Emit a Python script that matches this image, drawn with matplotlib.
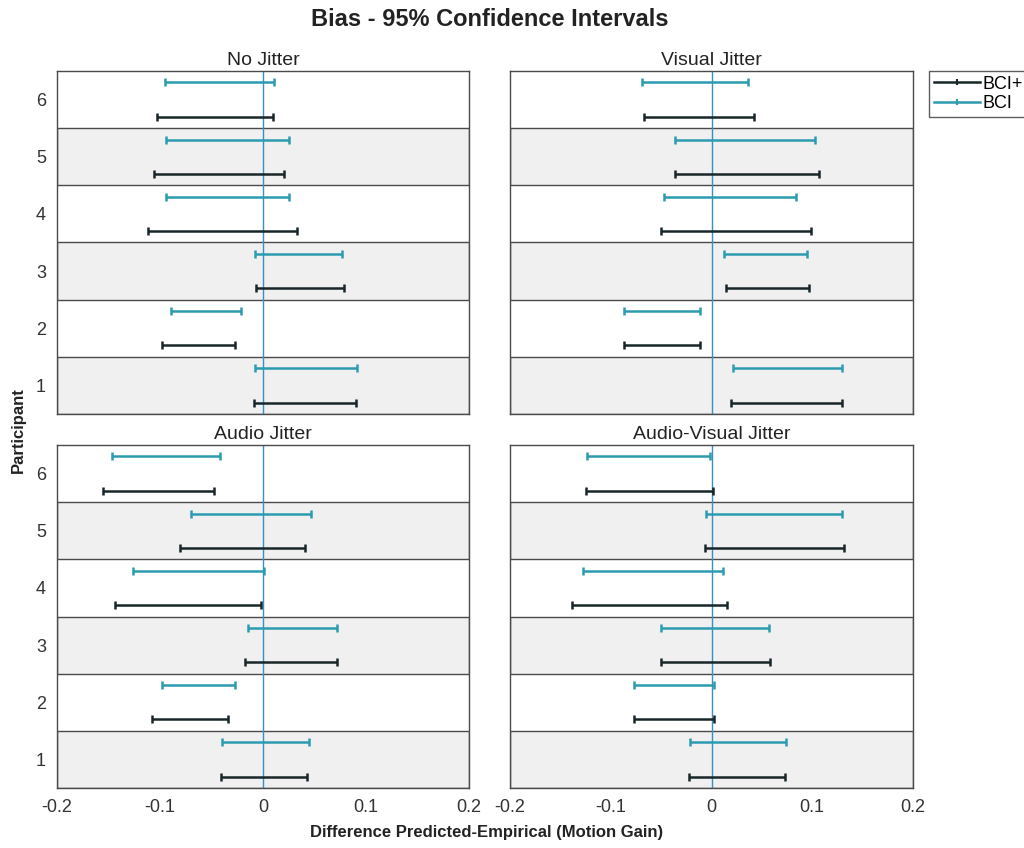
import numpy as np
import matplotlib
matplotlib.use("Agg")
from matplotlib import pyplot as plt
from matplotlib.lines import Line2D

plt.rcParams['font.family'] = ['Liberation Sans', 'DejaVu Sans']

# Participantes y condiciones
participantes = [1, 2, 3, 4, 5, 6]
condiciones = ["No Jitter", "Visual Jitter", "Audio Jitter", "Audio-Visual Jitter"]

# Intervalos de confianza 95% (límite inferior, superior) por participante 1..6
bci_plus_lo = {
    "No Jitter":           [-0.009, -0.098, -0.007, -0.112, -0.106, -0.103],
    "Visual Jitter":       [0.019, -0.087, 0.014, -0.050, -0.036, -0.067],
    "Audio Jitter":        [-0.041, -0.108, -0.017, -0.144, -0.081, -0.155],
    "Audio-Visual Jitter": [-0.022, -0.077, -0.050, -0.138, -0.006, -0.125],
}
bci_plus_hi = {
    "No Jitter":           [0.090, -0.027, 0.079, 0.033, 0.020, 0.010],
    "Visual Jitter":       [0.130, -0.011, 0.097, 0.099, 0.107, 0.042],
    "Audio Jitter":        [0.043, -0.034, 0.072, -0.002, 0.041, -0.048],
    "Audio-Visual Jitter": [0.073, 0.002, 0.058, 0.015, 0.132, 0.001],
}
bci_lo = {
    "No Jitter":           [-0.008, -0.089, -0.008, -0.094, -0.094, -0.095],
    "Visual Jitter":       [0.021, -0.087, 0.012, -0.047, -0.036, -0.069],
    "Audio Jitter":        [-0.040, -0.098, -0.015, -0.126, -0.070, -0.147],
    "Audio-Visual Jitter": [-0.021, -0.077, -0.050, -0.128, -0.005, -0.124],
}
bci_hi = {
    "No Jitter":           [0.091, -0.021, 0.077, 0.025, 0.025, 0.011],
    "Visual Jitter":       [0.130, -0.011, 0.095, 0.084, 0.103, 0.036],
    "Audio Jitter":        [0.045, -0.027, 0.072, 0.001, 0.047, -0.042],
    "Audio-Visual Jitter": [0.074, 0.002, 0.057, 0.011, 0.130, -0.001],
}

COLOR_BCIP = "#18262a"
COLOR_BCI = "#2b9bb0"

W, H = 1024, 848
fig = plt.figure(figsize=(W / 100, H / 100), dpi=100)

# posiciones en pixeles (izq, arriba, der, abajo)
cajas = [
    (57, 71, 469, 414),
    (510, 71, 913, 414),
    (57, 445, 469, 788),
    (510, 445, 913, 788),
]

def errbar(ax, lo, hi, y, color):
    lo = np.array(lo)
    hi = np.array(hi)
    centro = (lo + hi) / 2
    ax.errorbar(centro, y, xerr=[centro - lo, hi - centro], fmt="none",
                ecolor=color, elinewidth=1.8, capsize=3, capthick=1.8, zorder=3)

for i, (cond, (x0, y0, x1, y1)) in enumerate(zip(condiciones, cajas)):
    ax = fig.add_axes([x0 / W, 1 - y1 / H, (x1 - x0) / W, (y1 - y0) / H])
    y = np.array(participantes, dtype=float)

    # franjas alternadas
    for p in participantes:
        if p % 2 == 1:
            ax.axhspan(p - 0.5, p + 0.5, facecolor="#f0f0f0", edgecolor="#4a4a4a",
                       linewidth=1.0, zorder=0)
    ax.axvline(0, color="#3d8ec4", linewidth=1.0, zorder=2)

    errbar(ax, bci_plus_lo[cond], bci_plus_hi[cond], y - 0.3, COLOR_BCIP)
    errbar(ax, bci_lo[cond], bci_hi[cond], y + 0.3, COLOR_BCI)

    ax.set_xlim(-0.2, 0.2)
    ax.set_ylim(0.5, 6.5)
    ax.set_title(cond, fontsize=14, pad=4, color="#222222")
    ax.tick_params(length=0, labelsize=13, pad=8, labelcolor="#333333")
    ax.set_xticks([-0.2, -0.1, 0, 0.1, 0.2])
    ax.set_xticklabels(["-0.2", "-0.1", "0", "0.1", "0.2"])
    ax.set_yticks(participantes)
    if i < 2:
        ax.set_xticklabels([])
    if i % 2 == 1:
        ax.set_yticklabels([])
    for s in ax.spines.values():
        s.set_color("#4a4a4a")
        s.set_linewidth(1.0)

handles = [
    Line2D([], [], color=COLOR_BCIP, lw=1.8, marker="|", markersize=5, markeredgewidth=1.5),
    Line2D([], [], color=COLOR_BCI, lw=1.8, marker="|", markersize=5, markeredgewidth=1.5),
]
leg = fig.legend(handles=handles, labels=["BCI+", "BCI"], loc="upper left",
                 bbox_to_anchor=(929 / W, 1 - 71 / H), fontsize=13,
                 frameon=True, fancybox=False, edgecolor="#333333",
                 handlelength=2.6, handletextpad=0.1, borderpad=0.25,
                 labelspacing=0.15, borderaxespad=0)
leg.get_frame().set_linewidth(1.0)

fig.text(490 / W, 1 - 20 / H, "Bias - 95% Confidence Intervals", ha="center",
         va="center", fontsize=17, fontweight="bold", color="#222222")
fig.text(18 / W, 1 - 430 / H, "Participant", rotation=90, ha="center",
         va="center", fontsize=12, fontweight="bold", color="#222222")
fig.text(487 / W, 1 - 833 / H, "Difference Predicted-Empirical (Motion Gain)",
         ha="center", va="center", fontsize=12, fontweight="bold", color="#222222")

fig.savefig("out.png", dpi=100)
